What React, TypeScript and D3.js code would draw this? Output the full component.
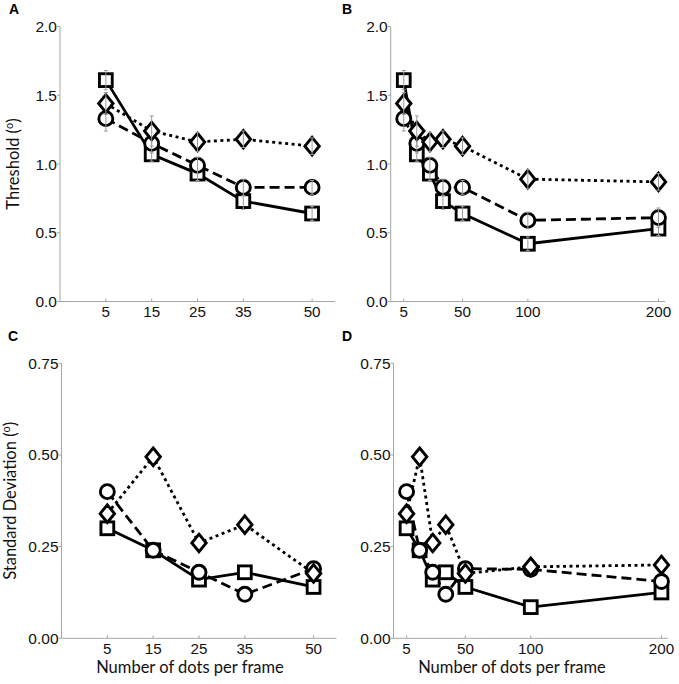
import React from "react";
import * as d3 from "d3";

const dotsShort = [5, 15, 25, 35, 50];
const dotsLong = [5, 15, 25, 35, 50, 100, 200];

const thrSquare = [1.61, 1.07, 0.93, 0.73, 0.64, 0.42, 0.53];
const thrCircle = [1.33, 1.15, 0.99, 0.83, 0.83, 0.59, 0.61];
const thrDiamond = [1.44, 1.24, 1.16, 1.18, 1.13, 0.89, 0.87];

const errSquare = [0.07, 0.05, 0.05, 0.06, 0.05, 0.05, 0.05];
const errCircle = [0.09, 0.07, 0.06, 0.06, 0.05, 0.06, 0.07];
const errDiamond = [0.08, 0.11, 0.07, 0.06, 0.06, 0.07, 0.06];

const sdSquare = [0.3, 0.24, 0.16, 0.18, 0.14, 0.085, 0.125];
const sdCircle = [0.4, 0.24, 0.18, 0.12, 0.19, 0.188, 0.155];
const sdDiamond = [0.34, 0.495, 0.26, 0.31, 0.177, 0.195, 0.2];

const thrTicks = [0, 0.5, 1.0, 1.5, 2.0];
const sdTicks = [0, 0.25, 0.5, 0.75];
const longTicks = [5, 50, 100, 200];

type Series = { shape: string; values: number[]; errors?: number[]; dash: string };

type PanelCfg = {
  letter: string;
  x0: number; x1: number; y0: number; y1: number;
  xDomain: [number, number]; yDomain: [number, number];
  xs: number[]; xTicks: number[]; yTicks: number[]; yFmt: string;
  series: Series[];
  yLabel?: string; yLabelX?: number;
  xLabel?: string; xLabelX?: number;
  letterX: number; letterY: number;
};

const AXIS = "#a6a6a6";
const TICKFONT = "'Liberation Sans', Arial, sans-serif";
const LABELFONT = "Lato, 'Open Sans', sans-serif";

function Marker({ shape, cx, cy }: { shape: string; cx: number; cy: number }) {
  const sw = 2.9;
  if (shape === "square") {
    return <rect x={cx - 6.4} y={cy - 6.4} width={12.8} height={12.8} fill="#fff" stroke="#000" strokeWidth={sw} />;
  }
  if (shape === "circle") {
    return <circle cx={cx} cy={cy} r={7} fill="#fff" stroke="#000" strokeWidth={sw} />;
  }
  const w = 7.2, h = 8.8;
  return (
    <path d={`M${cx},${cy - h}L${cx + w},${cy}L${cx},${cy + h}L${cx - w},${cy}Z`} fill="#fff" stroke="#000" strokeWidth={sw} />
  );
}

function Panel({ cfg }: { cfg: PanelCfg }) {
  const x = d3.scaleLinear().domain(cfg.xDomain).range([cfg.x0, cfg.x1]);
  const y = d3.scaleLinear().domain(cfg.yDomain).range([cfg.y0, cfg.y1]);
  const fmt = d3.format(cfg.yFmt);
  const line = d3.line<[number, number]>().x((d) => x(d[0])).y((d) => y(d[1]));
  return (
    <g>
      <text x={cfg.letterX} y={cfg.letterY} fontFamily={TICKFONT} fontWeight="bold" fontSize={14}>{cfg.letter}</text>
      <line x1={cfg.x0} x2={cfg.x0} y1={cfg.y0} y2={cfg.y1} stroke={AXIS} strokeWidth={1} />
      <line x1={cfg.x0} x2={cfg.x1} y1={cfg.y0} y2={cfg.y0} stroke={AXIS} strokeWidth={1} />
      {cfg.yTicks.map((t) => (
        <g key={"y" + t}>
          <line x1={cfg.x0 - 3} x2={cfg.x0} y1={y(t)} y2={y(t)} stroke={AXIS} />
          <text x={cfg.x0 - 3} y={y(t) + 5.5} textAnchor="end" fontFamily={TICKFONT} fontSize={15.5} fill="#111">{fmt(t)}</text>
        </g>
      ))}
      {cfg.xTicks.map((t) => (
        <g key={"x" + t}>
          <line x1={x(t)} x2={x(t)} y1={cfg.y0} y2={cfg.y0 - 3} stroke={AXIS} />
          <text x={x(t)} y={cfg.y0 + 15.5} textAnchor="middle" fontFamily={TICKFONT} fontSize={15.2} fill="#111">{t}</text>
        </g>
      ))}
      {cfg.yLabel && (
        <text transform={`translate(${cfg.yLabelX},${(cfg.y0 + cfg.y1) / 2}) rotate(-90)`} textAnchor="middle" fontFamily={LABELFONT} fontSize={16.5} fill="#111">
          {cfg.yLabel} (<tspan fontSize={11} dy={-6}>o</tspan><tspan dy={6}>)</tspan>
        </text>
      )}
      {cfg.xLabel && (
        <text x={cfg.xLabelX} y={cfg.y0 + 34.5} textAnchor="middle" fontFamily={LABELFONT} fontSize={16.5} fill="#111">{cfg.xLabel}</text>
      )}
      {cfg.series.map((s, i) => (
        <path key={"l" + i} d={line(cfg.xs.map((xv, j) => [xv, s.values[j]] as [number, number])) || ""} fill="none" stroke="#000" strokeWidth={2.8} strokeDasharray={s.dash} />
      ))}
      {cfg.series.map((s, i) => (
        <g key={"m" + i}>
          {cfg.xs.map((xv, j) => {
            const cx = x(xv), cy = y(s.values[j]);
            const e = s.errors ? s.errors[j] : 0;
            return (
              <g key={j}>
                <Marker shape={s.shape} cx={cx} cy={cy} />
                {s.errors && (
                  <g stroke="#9a9a9a" strokeWidth={1}>
                    <line x1={cx} x2={cx} y1={y(s.values[j] - e)} y2={y(s.values[j] + e)} />
                    <line x1={cx - 2} x2={cx + 2} y1={y(s.values[j] - e)} y2={y(s.values[j] - e)} />
                    <line x1={cx - 2} x2={cx + 2} y1={y(s.values[j] + e)} y2={y(s.values[j] + e)} />
                  </g>
                )}
              </g>
            );
          })}
        </g>
      ))}
    </g>
  );
}

export default function App() {
  const n5 = dotsShort.length;
  const thrShort: Series[] = [
    { shape: "square", values: thrSquare.slice(0, n5), errors: errSquare.slice(0, n5), dash: "" },
    { shape: "circle", values: thrCircle.slice(0, n5), errors: errCircle.slice(0, n5), dash: "10,5" },
    { shape: "diamond", values: thrDiamond.slice(0, n5), errors: errDiamond.slice(0, n5), dash: "3,3.5" },
  ];
  const thrLong: Series[] = [
    { shape: "square", values: thrSquare, errors: errSquare, dash: "" },
    { shape: "circle", values: thrCircle, errors: errCircle, dash: "10,5" },
    { shape: "diamond", values: thrDiamond, errors: errDiamond, dash: "3,3.5" },
  ];
  const sdShort: Series[] = [
    { shape: "square", values: sdSquare.slice(0, n5), dash: "" },
    { shape: "circle", values: sdCircle.slice(0, n5), dash: "10,5" },
    { shape: "diamond", values: sdDiamond.slice(0, n5), dash: "3,3.5" },
  ];
  const sdLong: Series[] = [
    { shape: "square", values: sdSquare, dash: "" },
    { shape: "circle", values: sdCircle, dash: "10,5" },
    { shape: "diamond", values: sdDiamond, dash: "3,3.5" },
  ];
  const panels: PanelCfg[] = [
    { letter: "A", x0: 60, x1: 335, y0: 301.5, y1: 26.5, xDomain: [-5, 55], yDomain: [0, 2], xs: dotsShort, xTicks: dotsShort, yTicks: thrTicks, yFmt: ".1f", series: thrShort, yLabel: "Threshold", yLabelX: 19, letterX: 9, letterY: 14 },
    { letter: "B", x0: 390.7, x1: 665, y0: 301.5, y1: 26.5, xDomain: [-5, 205], yDomain: [0, 2], xs: dotsLong, xTicks: longTicks, yTicks: thrTicks, yFmt: ".1f", series: thrLong, letterX: 342, letterY: 14 },
    { letter: "C", x0: 61.5, x1: 336.5, y0: 638.3, y1: 363.3, xDomain: [-5, 55], yDomain: [0, 0.75], xs: dotsShort, xTicks: dotsShort, yTicks: sdTicks, yFmt: ".2f", series: sdShort, yLabel: "Standard Deviation", yLabelX: 16, xLabel: "Number of dots per frame", xLabelX: 190, letterX: 8, letterY: 341 },
    { letter: "D", x0: 393.5, x1: 668, y0: 638.3, y1: 363.3, xDomain: [-5, 205], yDomain: [0, 0.75], xs: dotsLong, xTicks: longTicks, yTicks: sdTicks, yFmt: ".2f", series: sdLong, xLabel: "Number of dots per frame", xLabelX: 512, letterX: 342, letterY: 341 },
  ];
  return (
    <svg width={679} height={684} style={{ position: "absolute", left: 0, top: 0, background: "#fff" }}>
      <rect width={679} height={684} fill="#fff" />
      {panels.map((p) => <Panel key={p.letter} cfg={p} />)}
    </svg>
  );
}
